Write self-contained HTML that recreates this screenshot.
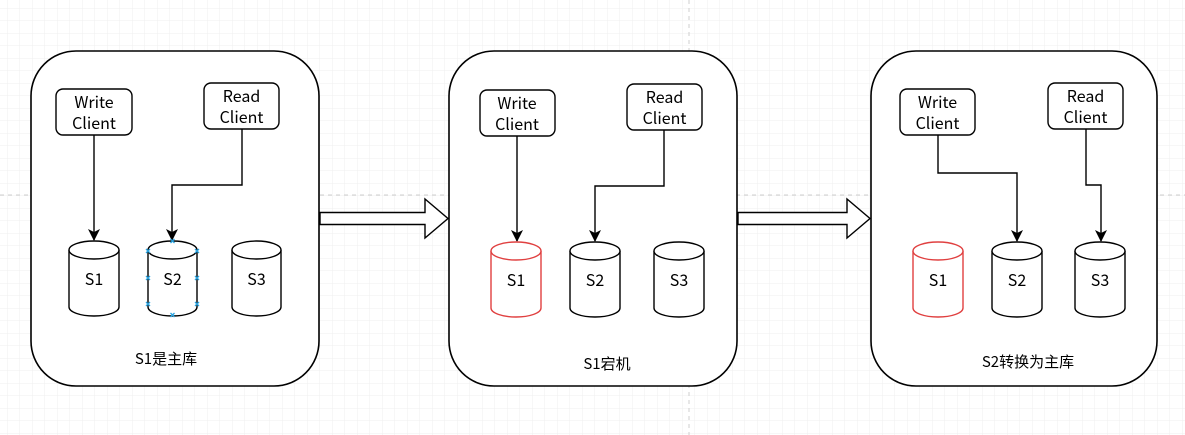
<!DOCTYPE html>
<html><head><meta charset="utf-8"><style>
html,body{margin:0;padding:0;background:#fff;}
svg{display:block;font-family:"Noto Sans CJK SC","Liberation Sans",sans-serif;}
</style></head><body>
<svg width="1185" height="435" viewBox="0 0 1185 435" xmlns="http://www.w3.org/2000/svg">
<defs>
<pattern id="g" x="7" y="8" width="12.5" height="12.5" patternUnits="userSpaceOnUse">
<path d="M0 0H12.5M0 0V12.5" stroke="#efefef" stroke-width="1" fill="none"/>
</pattern>
<marker id="a" markerWidth="12" markerHeight="12" refX="11" refY="6" orient="auto" markerUnits="userSpaceOnUse">
<path d="M0,0 L12,6 L0,12 L3,6 Z" fill="#000"/>
</marker>
</defs>
<rect width="1185" height="435" fill="url(#g)"/>
<line x1="0" y1="195" x2="1185" y2="195" stroke="#cfcfcf" stroke-dasharray="4,4"/>
<line x1="689" y1="0" x2="689" y2="435" stroke="#cfcfcf" stroke-dasharray="4,4"/>

<g fill="#fff" stroke="#000" stroke-width="1.6">
<rect x="31" y="51" width="288" height="335" rx="45"/>
<rect x="449" y="51" width="288" height="335" rx="45"/>
<rect x="871" y="51" width="286" height="335" rx="45"/>
<path d="M320,212.5 H425 V199 L448,218.5 L425,238 V224.5 H320 Z" stroke-width="1.4"/>
<path d="M738,212.5 H847 V199 L870,218.5 L847,238 V224.5 H738 Z" stroke-width="1.4"/>
</g>

<g fill="#fff" stroke="#000" stroke-width="1.4">
<rect x="56" y="89" width="76" height="46" rx="7"/>
<rect x="204" y="83" width="75" height="46" rx="7"/>
<rect x="480" y="90" width="75" height="46" rx="7"/>
<rect x="627" y="84" width="75" height="46" rx="7"/>
<rect x="900" y="89" width="75" height="46" rx="7"/>
<rect x="1048" y="83" width="75" height="46" rx="7"/>
</g>

<g fill="none" stroke="#000" stroke-width="1.4" marker-end="url(#a)">
<path d="M94,135 V240"/>
<path d="M242,129 V185 H172 V240"/>
<path d="M517,136 V241"/>
<path d="M664,130 V186 H595 V241"/>
<path d="M938,135 V173 H1017 V241"/>
<path d="M1086,129 V185 H1101 V241"/>
</g>

<g fill="#fff" stroke-width="1.4">
<g stroke="#000">
<path d="M69,250 V307 A25,9 0 0 0 119,307 V250"/><ellipse cx="94" cy="250" rx="25" ry="9"/>
<path d="M148,250 V307 A24.5,9 0 0 0 197,307 V250"/><ellipse cx="172.5" cy="250" rx="24.5" ry="9"/>
<path d="M232,250 V307 A24.5,9 0 0 0 281,307 V250"/><ellipse cx="256.5" cy="250" rx="24.5" ry="9"/>
<path d="M570,251 V308 A25,9 0 0 0 620,308 V251"/><ellipse cx="595" cy="251" rx="25" ry="9"/>
<path d="M654,251 V308 A25,9 0 0 0 704,308 V251"/><ellipse cx="679" cy="251" rx="25" ry="9"/>
<path d="M992,251 V308 A25,9 0 0 0 1042,308 V251"/><ellipse cx="1017" cy="251" rx="25" ry="9"/>
<path d="M1075,251 V308 A25,9 0 0 0 1125,308 V251"/><ellipse cx="1100" cy="251" rx="25" ry="9"/>
</g>
<g stroke="#e04040">
<path d="M491,251 V308 A25,9 0 0 0 541,308 V251"/><ellipse cx="516" cy="251" rx="25" ry="9"/>
<path d="M913,251 V308 A25,9 0 0 0 963,308 V251"/><ellipse cx="938" cy="251" rx="25" ry="9"/>
</g>
</g>

<g stroke="#29a3e0" stroke-width="1.3">
<path d="M170.5,239 l4,4 m0,-4 l-4,4"/>
<path d="M146,249 l4,4 m0,-4 l-4,4"/><path d="M195,249 l4,4 m0,-4 l-4,4"/>
<path d="M146,276 l4,4 m0,-4 l-4,4"/><path d="M195,276 l4,4 m0,-4 l-4,4"/>
<path d="M146,302 l4,4 m0,-4 l-4,4"/><path d="M195,302 l4,4 m0,-4 l-4,4"/>
<path d="M170.5,313 l4,4 m0,-4 l-4,4"/>
</g>

<g font-size="16" text-anchor="middle" fill="#000">
<text x="94" y="108">Write</text><text x="94" y="129">Client</text>
<text x="241.5" y="102">Read</text><text x="241.5" y="123">Client</text>
<text x="517" y="109">Write</text><text x="517" y="130">Client</text>
<text x="664.5" y="103">Read</text><text x="664.5" y="124">Client</text>
<text x="937.5" y="108">Write</text><text x="937.5" y="129">Client</text>
<text x="1085.5" y="102">Read</text><text x="1085.5" y="123">Client</text>

<text x="94" y="285">S1</text><text x="172.5" y="285">S2</text><text x="256.5" y="285">S3</text>
<text x="516" y="286">S1</text><text x="595" y="286">S2</text><text x="679" y="286">S3</text>
<text x="938" y="286">S1</text><text x="1017" y="286">S2</text><text x="1100" y="286">S3</text>

<text x="166" y="364" font-size="15">S1是主库</text>
<text x="607" y="369" font-size="15">S1宕机</text>
<text x="1028" y="367" font-size="15">S2转换为主库</text>
</g>
</svg>
</body></html>
